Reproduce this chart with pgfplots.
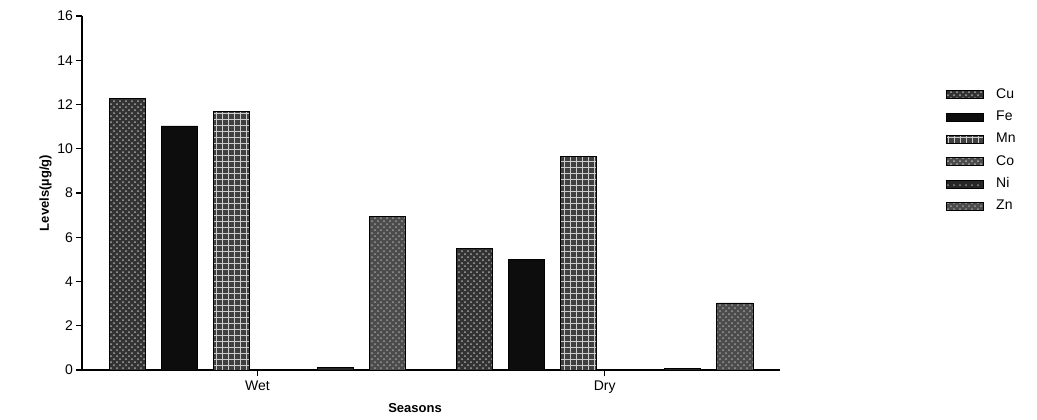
\documentclass[border=0pt]{standalone}
\usepackage{fontspec}
\setmainfont{Liberation Sans}
\usepackage{pgfplots}
\pgfplotsset{compat=1.18}
\usetikzlibrary{patterns}
\begin{document}
\begin{tikzpicture}
\begin{axis}[
  name=ax,
  scale only axis,
  width=349pt, height=177pt,
  xmin=-0.505, xmax=1.505,
  ymin=0, ymax=16,
  axis lines=left,
  axis line style={-, line width=0.8pt},
  xtick={0,1}, xticklabels={Wet,Dry},
  ytick={0,2,...,16},
  tick align=outside,
  major tick length=3pt,
  tick style={black, line width=0.6pt},
  /pgf/number format/assume math mode=true,
  tick label style={font=\fontsize{7}{8}\selectfont},
  yticklabel style={xshift=2pt},
  xticklabel style={yshift=1pt},
  xlabel={\textbf{Seasons}},
  ylabel={\textbf{Levels(µg/g)}},
  label style={font=\fontsize{6.5}{7}\selectfont},
  xlabel style={xshift=-8pt, yshift=2pt},
  ylabel style={yshift=-4pt},
  legend style={at={(1,1)}, anchor=north west, xshift=80pt, yshift=-32pt,
    draw=none, fill=none, font=\fontsize{7}{8}\selectfont,
    row sep=0.8pt, legend cell align=left,
    nodes={inner xsep=6pt}},
  legend image code/.code={\fill[#1] (0pt,-2pt) rectangle (18.5pt,2pt);},
  bar width=0.104,
]
\addplot[ybar, bar shift=-0.375, draw=black, fill=black!80,
  postaction={pattern=crosshatch dots, pattern color=black!35}]
  coordinates {(0,12.29) (1,5.51)};
\addlegendentry{Cu}
\addplot[ybar, bar shift=-0.225, draw=black, fill=black!95]
  coordinates {(0,11.03) (1,5.0)};
\addlegendentry{Fe}
\addplot[ybar, bar shift=-0.075, draw=black, fill=black!75,
  postaction={pattern=grid, pattern color=white!80!black}]
  coordinates {(0,11.7) (1,9.67)};
\addlegendentry{Mn}
\addplot[ybar, bar shift=0.075, draw=black, fill=black!70,
  postaction={pattern=crosshatch dots, pattern color=white!70!black}]
  coordinates {(0,0) (1,0)};
\addlegendentry{Co}
\addplot[ybar, bar shift=0.225, draw=black, fill=black!85,
  postaction={pattern=dots, pattern color=black!45}]
  coordinates {(0,0.1) (1,0.08)};
\addlegendentry{Ni}
\addplot[ybar, bar shift=0.375, draw=black, fill=black!70,
  postaction={pattern=crosshatch dots, pattern color=black!40}]
  coordinates {(0,6.96) (1,3.03)};
\addlegendentry{Zn}
\end{axis}
\path (ax.south west) ++(-41pt,-22.5pt) coordinate (bl);
\path (ax.north east) ++(128.5pt,8pt) coordinate (tr);
\path (bl) rectangle (tr);
\end{tikzpicture}
\end{document}
